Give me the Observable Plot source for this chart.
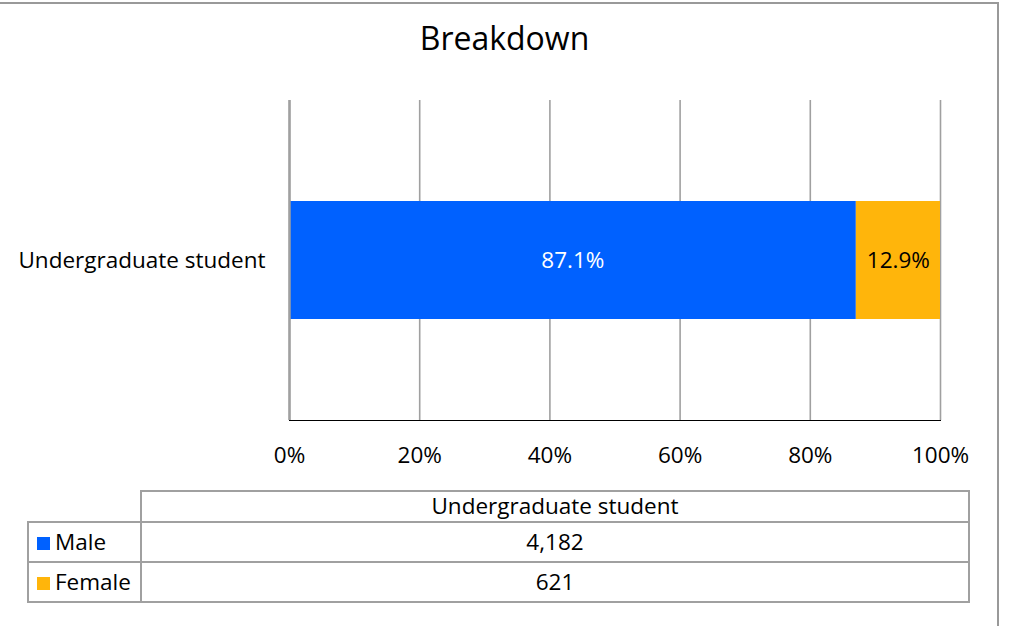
<!DOCTYPE html>
<html>
<head>
<meta charset="utf-8">
<script src="https://cdn.jsdelivr.net/npm/d3@7"></script>
<script src="https://cdn.jsdelivr.net/npm/@observablehq/plot@0.6"></script>
<style>
  html, body { margin: 0; padding: 0; background: #fff; }
  body { font-family: "Open Sans", sans-serif; }
  #chart { position: relative; width: 1009px; height: 626px; overflow: hidden; }
  #frame { position: absolute; left: -2px; top: 2px; width: 1001px; height: 700px; border-top: 2px solid #999; border-right: 2px solid #999; box-sizing: border-box; }
  #title { position: absolute; left: 0; top: 0; width: 1009px; height: 100px; text-align: center; font-size: 32px; line-height: 76px; color: #000; }
  #plot { position: absolute; left: 0; top: 100px; }
  #table { position: absolute; left: 27px; top: 490px; border-collapse: collapse; font-size: 22.5px; line-height: 1; color: #000; }
  #table td { border: 2px solid #a0a0a0; padding: 0; text-align: center; }
  #table td.blank { border: none; border-bottom: 2px solid #a0a0a0; border-right: 2px solid #a0a0a0; }
  #table td.name { text-align: left; padding-left: 8px; white-space: nowrap; }
  .sw { display: inline-block; width: 13px; height: 13px; margin-right: 5px; vertical-align: 0px; }
</style>
</head>
<body>
<div id="chart">
  <div id="frame"></div>
  <div id="title"></div>
  <div id="plot"></div>
  <table id="table"></table>
</div>
<script>
const title = "Breakdown";
const categories = ["Undergraduate student"];
const seriesNames = ["Male", "Female"];
const seriesColors = ["#0061FF", "#FFB50B"];
const labelColors = ["#ffffff", "#000000"];
const maleValues = [4182];
const femaleValues = [621];
const xTicks = [0, 0.2, 0.4, 0.6, 0.8, 1];

const rows = [];
categories.forEach((c, i) => {
  rows.push({cat: c, series: "Male", value: maleValues[i]});
  rows.push({cat: c, series: "Female", value: femaleValues[i]});
});
const totals = new Map(categories.map((c, i) => [c, maleValues[i] + femaleValues[i]]));
const pct = d => d3.format(".1%")(d.value / totals.get(d.cat));

document.getElementById("title").textContent = title;

const labelMark = (k) => Plot.text(rows, Plot.stackX({
  x: "value", y: "cat", offset: "normalize",
  text: d => d.series === seriesNames[k] ? pct(d) : "",
  fill: labelColors[k], fontSize: 22.5
}));

const plot = Plot.plot({
  width: 1009,
  height: 380,
  marginTop: 0,
  marginBottom: 60,
  marginLeft: 289,
  marginRight: 69,
  style: {fontFamily: "Open Sans, sans-serif", fontSize: "22.5px", color: "#000", background: "transparent"},
  x: {domain: [0, 1], ticks: xTicks, tickFormat: d3.format(".0%"), tickSize: 0, tickPadding: 27, label: null, line: true},
  y: {domain: categories, padding: 0.46, tickSize: 0, tickPadding: 24, label: null},
  color: {domain: seriesNames, range: seriesColors},
  marks: [
    Plot.gridX(xTicks, {stroke: "#a0a0a0", strokeOpacity: 1, strokeWidth: 1.6}),
    Plot.barX(rows, Plot.stackX({x: "value", y: "cat", fill: "series", offset: "normalize"})),
    labelMark(0),
    labelMark(1),
    Plot.ruleX([0], {stroke: "#a0a0a0", strokeWidth: 2.5})
  ]
});
plot.querySelectorAll("[aria-label='x-axis line'] path, [aria-label='x-axis line'] line").forEach(e => { e.setAttribute("stroke", "#a0a0a0"); e.setAttribute("stroke-width", "2.5"); });
document.getElementById("plot").appendChild(plot);

// data table
const table = document.getElementById("table");
const fmt = d3.format(",");
let html = "<tr style='height:31px'><td class='blank' style='width:112px'></td>" +
  categories.map(c => `<td style='width:826px'>${c}</td>`).join("") + "</tr>";
const seriesVals = [maleValues, femaleValues];
seriesNames.forEach((s, i) => {
  html += `<tr style='height:40px'><td class='name'><span class='sw' style='background:${seriesColors[i]}'></span>${s}</td>` +
    seriesVals[i].map(v => `<td>${fmt(v)}</td>`).join("") + "</tr>";
});
table.innerHTML = html;
</script>
</body>
</html>
